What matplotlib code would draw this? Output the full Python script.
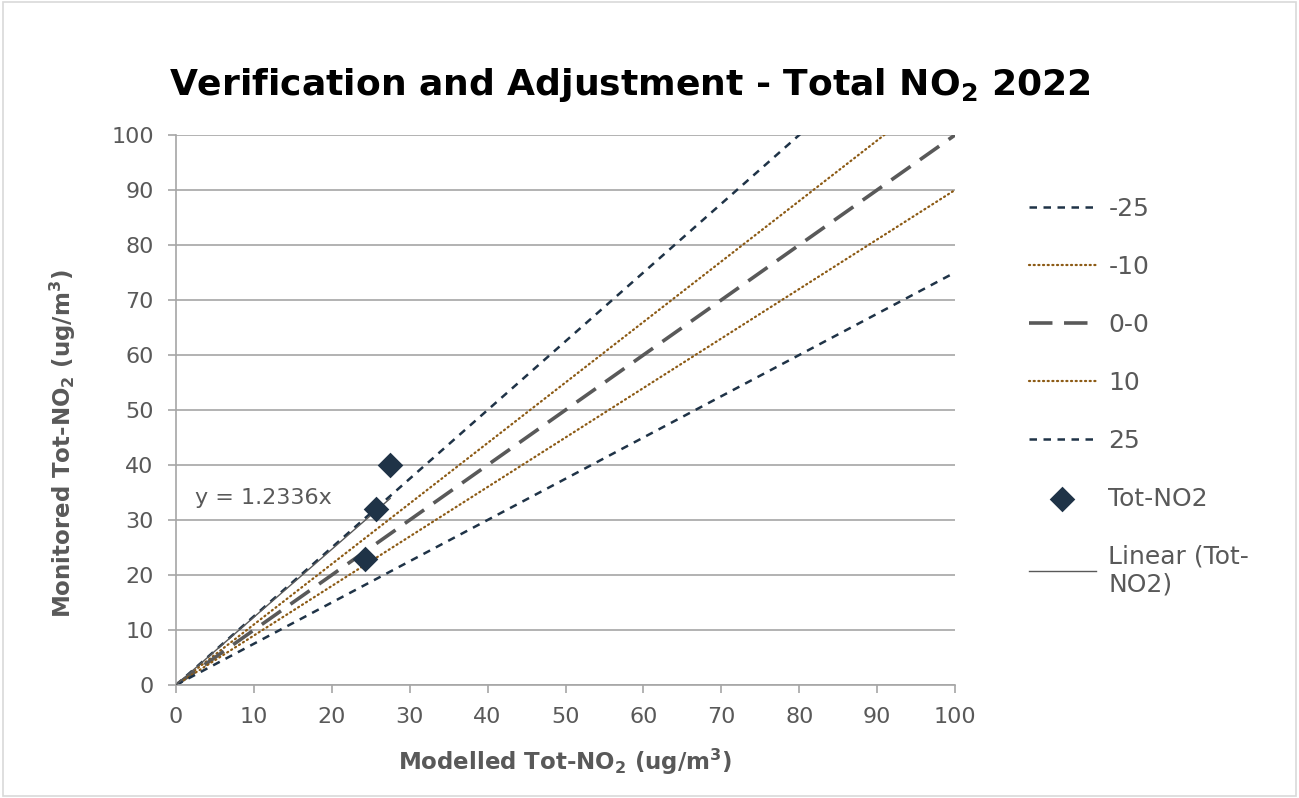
import numpy as np
import matplotlib
matplotlib.use("Agg")
import matplotlib.pyplot as plt
from matplotlib.patches import Rectangle

plt.rcParams['font.family'] = ['DejaVu Sans']
plt.rcParams['mathtext.fontset'] = 'dejavusans'

# Modelled vs monitored total NO2 (ug/m3)
modelled = [27.5, 25.7, 24.3]
monitored = [40.0, 32.0, 23.0]
trend_slope = 1.2336

# Reference bands: percentage offsets from the 1:1 line
band_labels = ['-25', '-10', '0-0', '10', '25']
band_factors = [1.25, 1.10, 1.00, 0.90, 0.75]
band_x = [0, 100]

ticks = list(range(0, 101, 10))

navy = '#1F3347'
brown = '#8C5A14'
gray = '#595959'
grid_col = '#A6A6A6'
text_col = '#595959'

fig = plt.figure(figsize=(12.99, 7.98), dpi=100)
ax = fig.add_axes([176/1299, 1 - 685/798, (955-176)/1299, (685-135)/798])

styles = {
    '-25': dict(color=navy, lw=1.8, dashes=(3.0, 2.6)),
    '-10': dict(color=brown, lw=1.6, dashes=(0.5, 1.6), dash_capstyle='round'),
    '0-0': dict(color=gray, lw=2.6, dashes=(6.5, 3.2)),
    '10': dict(color=brown, lw=1.6, dashes=(0.5, 1.6), dash_capstyle='round'),
    '25': dict(color=navy, lw=1.8, dashes=(3.0, 2.6)),
}
for lab, f in zip(band_labels, band_factors):
    st = dict(styles[lab])
    dashes = st.pop('dashes')
    ln, = ax.plot(band_x, [v * f for v in band_x], label=lab, **st)
    ln.set_dashes(dashes)

ax.scatter(modelled, monitored, marker='D', s=170, color=navy, zorder=5,
           label='Tot-NO2', linewidths=0)

tx = np.array([0, max(modelled)])
ax.plot(tx, trend_slope * tx, color=gray, lw=1.0, label='Linear (Tot-\nNO2)', zorder=4)

ax.text(2.4, 34.0, f'y = {trend_slope}x', fontsize=16, color=text_col, va='center')

ax.set_xlim(0, 100)
ax.set_ylim(0, 100)
ax.set_xticks(ticks)
ax.set_yticks(ticks)
ax.yaxis.grid(True, color=grid_col, lw=1.2)
ax.set_axisbelow(True)
for s in ['top', 'right']:
    ax.spines[s].set_visible(False)
for s in ['left', 'bottom']:
    ax.spines[s].set_color(grid_col)
    ax.spines[s].set_linewidth(1.2)
ax.tick_params(axis='both', colors=grid_col, length=6, width=1.2,
               labelsize=16, labelcolor=text_col, pad=10)

ax.set_xlabel(r'Modelled Tot-NO$_\mathbf{2}$ (ug/m$^\mathbf{3}$)', fontsize=16.5,
              fontweight='bold', color=text_col, labelpad=14)
ax.set_ylabel(r'Monitored Tot-NO$_\mathbf{2}$ (ug/m$^\mathbf{3}$)', fontsize=16.5,
              fontweight='bold', color=text_col)
ax.yaxis.set_label_coords(-0.126, 0.438)

fig.text(0.485, 1 - 85/798, r'Verification and Adjustment - Total NO$_\mathbf{2}$ 2022',
         fontsize=26, fontweight='bold', ha='center', va='center', color='black')

leg = fig.legend(loc='upper left', bbox_to_anchor=(1006/1299, 1 - 174/798),
                 frameon=False, fontsize=18, handlelength=2.7, labelspacing=1.36,
                 handletextpad=0.5, labelcolor=text_col)

fig.add_artist(Rectangle((0.002, 0.002), 0.996, 0.996, transform=fig.transFigure,
                         fill=False, edgecolor='#D9D9D9', lw=1.2))

fig.savefig('out.png', dpi=100)
